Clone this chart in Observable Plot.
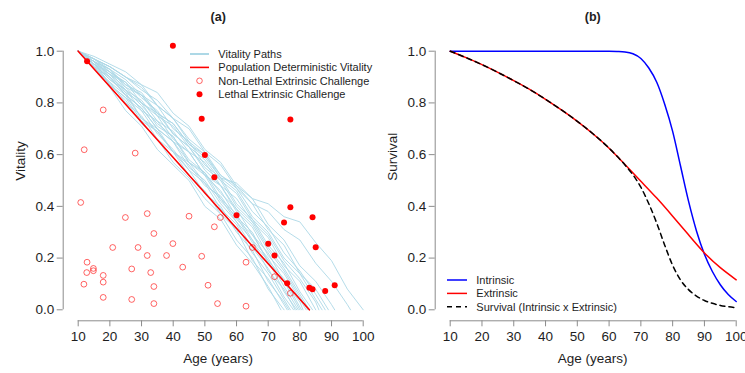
<!DOCTYPE html>
<html><head><meta charset="utf-8">
<script src="https://cdn.jsdelivr.net/npm/d3@7"></script>
<script src="https://cdn.jsdelivr.net/npm/@observablehq/plot@0.6"></script>
<style>
body{margin:0;background:#fff;font-family:"Liberation Sans",Arial,sans-serif;}
#wrap{position:relative;width:745px;height:373px;overflow:hidden;background:#fff;}
.panel{position:absolute;top:0;}
.panel svg{overflow:visible;}
#legend{position:absolute;left:0;top:0;}
</style></head><body><div id="wrap"></div>
<script>
// ---------- data ----------
const xTicks = [10, 20, 30, 40, 50, 60, 70, 80, 90, 100];
const yTicks = [0, 0.2, 0.4, 0.6, 0.8, 1.0];

// Vitality paths: values on a 5-year grid starting at age 10, then reaching 0 at pathEnd
const pathVals = [
  [1,0.94,0.86,0.77,0.71,0.62,0.56,0.50,0.40,0.35,0.25,0.18,0.09],
  [1,0.95,0.87,0.81,0.72,0.66,0.57,0.51,0.43,0.37,0.27,0.20,0.08],
  [1,0.93,0.88,0.80,0.75,0.66,0.61,0.52,0.46,0.37,0.31,0.19,0.12],
  [1,0.95,0.89,0.84,0.74,0.69,0.61,0.54,0.45,0.40,0.30,0.23,0.11,0.03],
  [1,0.96,0.87,0.82,0.77,0.68,0.62,0.54,0.49,0.39,0.33,0.22,0.14,0.04],
  [1,0.95,0.90,0.83,0.78,0.70,0.65,0.55,0.50,0.41,0.34,0.24,0.16,0.05],
  [1,0.94,0.88,0.83,0.74,0.70,0.61,0.57,0.49,0.43,0.34,0.27,0.15,0.08],
  [1,0.96,0.90,0.85,0.79,0.72,0.67,0.57,0.52,0.42,0.36,0.26,0.19,0.07],
  [1,0.94,0.90,0.83,0.78,0.70,0.65,0.57,0.53,0.43,0.37,0.27,0.20,0.09],
  [1,0.96,0.91,0.86,0.80,0.75,0.66,0.61,0.52,0.46,0.36,0.30,0.18,0.11],
  [1,0.94,0.87,0.82,0.73,0.69,0.61,0.56,0.48,0.44,0.35,0.29,0.19,0.12],
  [1,0.95,0.91,0.84,0.80,0.71,0.67,0.58,0.53,0.45,0.39,0.29,0.22,0.11,0.03],
  [1,0.97,0.92,0.88,0.82,0.77,0.68,0.63,0.54,0.48,0.38,0.32,0.21,0.14,0.04],
  [1,0.95,0.89,0.85,0.77,0.73,0.65,0.61,0.52,0.48,0.39,0.33,0.23,0.15,0.05],
  [1,0.96,0.91,0.88,0.80,0.76,0.68,0.63,0.55,0.50,0.40,0.34,0.24,0.16,0.06],
  [1,0.97,0.93,0.89,0.83,0.79,0.70,0.65,0.56,0.51,0.41,0.35,0.25,0.18,0.07],
  [1,0.95,0.92,0.85,0.81,0.73,0.69,0.61,0.57,0.48,0.43,0.34,0.28,0.17,0.11],
  [1,0.96,0.92,0.87,0.83,0.75,0.71,0.63,0.58,0.50,0.45,0.35,0.29,0.19,0.12,0.03],
  [1,0.97,0.94,0.90,0.86,0.79,0.74,0.65,0.60,0.51,0.46,0.36,0.30,0.20,0.14,0.04],
  [1,0.96,0.93,0.86,0.83,0.76,0.72,0.64,0.60,0.52,0.47,0.38,0.32,0.22,0.15,0.06],
  [1,0.97,0.94,0.90,0.85,0.81,0.74,0.70,0.61,0.56,0.47,0.41,0.31,0.25,0.14,0.08],
  [1,0.98,0.95,0.92,0.87,0.84,0.76,0.71,0.62,0.57,0.48,0.43,0.33,0.27,0.17,0.11,0.02],
  [1,0.97,0.94,0.90,0.87,0.79,0.74,0.66,0.61,0.52,0.48,0.41,0.38,0.31,0.27,0.18,0.11,0.02],
  [1,0.96,0.93,0.87,0.84,0.76,0.72,0.64,0.59,0.51,0.49,0.43,0.41,0.36,0.34,0.26,0.19,0.08]
];
const pathEnd = [74,75,76,76.5,77,78,78.5,79,79.5,80,80.5,81,82,82.5,83,84,85,86,87,88,89,91,96,100];

// Population deterministic vitality
const detAge = [10, 83];
const detVit = [1.0, 0.0];

// Non-lethal extrinsic challenges
const nlAge = [10.8,12.8,12.7,11.8,14.8,14.8,17.9,17.9,17.9,20.9,24.9,26.9,26.9,28.9,31.8,31.8,32.9,33.9,33.9,33.9,37.9,39.9,43.0,45.0,49.0,51.0,53.0,54.0,54.9,63.0,63.0,65.0,72.0,77.0,17.9,11.9,28.0];
const nlVit = [0.415,0.184,0.144,0.099,0.160,0.151,0.133,0.107,0.048,0.241,0.357,0.158,0.040,0.241,0.372,0.210,0.144,0.295,0.090,0.024,0.210,0.256,0.165,0.362,0.207,0.095,0.321,0.024,0.357,0.184,0.014,0.241,0.128,0.064,0.773,0.619,0.606];

// Lethal extrinsic challenges
const lAge = [39.9,12.8,49.0,50.0,53.0,77.0,60.0,70.0,72.0,75.0,77.0,76.0,83.0,84.0,84.0,85.0,88.0,91.0];
const lVit = [1.021,0.961,0.739,0.599,0.513,0.736,0.366,0.255,0.210,0.338,0.397,0.103,0.085,0.079,0.358,0.242,0.073,0.095];

// Panel (b) survival curves
const intrAge = [10,20,30,40,50,55,60,62.5,65,67.5,70,72.5,75,77.5,80,82.5,85,87.5,90,92.5,95,97.5,100];
const intrinsic = [1,1,1,1,1,1,1,0.999,0.997,0.99,0.972,0.935,0.88,0.795,0.69,0.555,0.42,0.305,0.215,0.148,0.097,0.059,0.032];
const extrAge = [10,15,20,25,30,35,40,45,50,55,60,65,70,75,80,85,90,95,100];
const extrinsic = [1,0.975,0.948,0.918,0.886,0.852,0.814,0.773,0.729,0.68,0.625,0.562,0.497,0.432,0.362,0.29,0.22,0.163,0.116];
const survAge = [10,15,20,25,30,35,40,45,50,55,60,65,67.5,70,72.5,75,77.5,80,82.5,85,87.5,90,92.5,95,97.5,100];
const survival  = [1,0.975,0.948,0.918,0.886,0.852,0.814,0.773,0.729,0.68,0.625,0.56,0.522,0.474,0.41,0.335,0.25,0.172,0.115,0.078,0.053,0.036,0.025,0.017,0.012,0.008];

// ---------- build tables ----------
const pathRows = [];
pathVals.forEach((vals, i) => {
  vals.forEach((v, j) => pathRows.push({path: i, age: 10 + 5 * j, v}));
  pathRows.push({path: i, age: pathEnd[i], v: 0});
});
const detRows = detAge.map((a, i) => ({age: a, v: detVit[i]}));
const nlRows = nlAge.map((a, i) => ({age: a, v: nlVit[i]}));
const lRows = lAge.map((a, i) => ({age: a, v: lVit[i]}));
const intrRows = intrAge.map((a, i) => ({age: a, v: intrinsic[i]}));
const extrRows = extrAge.map((a, i) => ({age: a, v: extrinsic[i]}));
const survRows = survAge.map((a, i) => ({age: a, v: survival[i]}));

const FONT = '"Liberation Sans", Arial, sans-serif';
const AXIS = "#8c8c8c";
const TXT = "#1e1e1e";

function frameOpts(W) {
  return {
    width: W, height: 373,
    marginLeft: 62.7, marginRight: 9.3, marginTop: 40, marginBottom: 52.7,
    style: {background: "transparent", overflow: "visible", fontFamily: FONT, fontSize: "13.5px", color: TXT},
    x: {domain: [10, 100], insetLeft: 15, insetRight: 0},
    y: {domain: [0, 1], insetTop: 10.7, insetBottom: 11}
  };
}
function axes(xlabel, ylabel, title, tdx) {
  return [
    Plot.ruleY([0], {x1: 10, x2: 100, dy: 11, stroke: AXIS, strokeWidth: 1}),
    Plot.ruleX([10], {y1: 0, y2: 1, dx: -15, stroke: AXIS, strokeWidth: 1}),
    Plot.axisX({ticks: xTicks, tickSize: 6, tickPadding: 5, stroke: AXIS, fill: TXT, label: null, fontSize: 13.5}),
    Plot.axisY({ticks: yTicks, tickSize: 6, tickPadding: 3, stroke: AXIS, fill: TXT, label: null, tickFormat: d => d.toFixed(1), fontSize: 13.5}),
    Plot.text([xlabel], {frameAnchor: "bottom", dy: 42.4, dx: tdx, fontSize: 13.5, fill: TXT}),
    Plot.text([ylabel], {frameAnchor: "left", dx: -42.5, rotate: -90, fontSize: 13.5, fill: TXT}),
    Plot.text([title], {frameAnchor: "top", dy: -28.5, dx: tdx, fontSize: 12.5, fontWeight: "bold", fill: TXT})
  ];
}

const plotA = Plot.plot({
  ...frameOpts(372),
  marks: [
    ...axes("Age (years)", "Vitality", "(a)", 5),
    Plot.line(pathRows, {x: "age", y: "v", z: "path", stroke: "#add8e6", strokeWidth: 0.9}),
    Plot.line(detRows, {x: "age", y: "v", stroke: "red", strokeWidth: 1.6}),
    Plot.dot(nlRows, {x: "age", y: "v", r: 2.9, stroke: "red", strokeOpacity: 0.6, fill: "none", strokeWidth: 1}),
    Plot.dot(lRows, {x: "age", y: "v", r: 3, fill: "red", stroke: "none"})
  ]
});

const plotB = Plot.plot({
  ...frameOpts(373),
  marks: [
    ...axes("Age (years)", "Survival", "(b)", 7),
    Plot.line(intrRows, {x: "age", y: "v", stroke: "blue", strokeWidth: 1.5, curve: "monotone-x"}),
    Plot.line(extrRows, {x: "age", y: "v", stroke: "red", strokeWidth: 1.5, curve: "natural"}),
    Plot.line(survRows, {x: "age", y: "v", stroke: "black", strokeWidth: 1.5, strokeDasharray: "5,4", curve: "monotone-x"})
  ]
});

const wrap = document.getElementById("wrap");
const pa = document.createElement("div"); pa.className = "panel"; pa.style.left = "0px"; pa.appendChild(plotA);
const pb = document.createElement("div"); pb.className = "panel"; pb.style.left = "372px"; pb.appendChild(plotB);
wrap.appendChild(pa); wrap.appendChild(pb);

// ---------- legends ----------
const leg = d3.select(wrap).append("svg").attr("id", "legend").attr("width", 745).attr("height", 373)
  .style("font-family", FONT).style("font-size", "11px");
const legA = [
  {label: "Vitality Paths", kind: "line", color: "#add8e6", w: 2},
  {label: "Population Deterministic Vitality", kind: "line", color: "red", w: 1.6},
  {label: "Non-Lethal Extrinsic Challenge", kind: "open"},
  {label: "Lethal Extrinsic Challenge", kind: "dot"}
];
const legAy = [54, 67.4, 80.8, 94.2];
legA.forEach((d, i) => {
  const y = legAy[i];
  if (d.kind === "line") leg.append("line").attr("x1", 190).attr("x2", 209).attr("y1", y).attr("y2", y).attr("stroke", d.color).attr("stroke-width", d.w);
  if (d.kind === "open") leg.append("circle").attr("cx", 199.5).attr("cy", y).attr("r", 2.8).attr("fill", "none").attr("stroke", "red").attr("stroke-opacity", 0.6);
  if (d.kind === "dot") leg.append("circle").attr("cx", 199.5).attr("cy", y).attr("r", 3).attr("fill", "red");
  leg.append("text").attr("x", 218.3).attr("y", y).attr("dy", "0.35em").attr("fill", TXT).text(d.label);
});
const legB = [
  {label: "Intrinsic", color: "blue", dash: null},
  {label: "Extrinsic", color: "red", dash: null},
  {label: "Survival (Intrinsic x Extrinsic)", color: "black", dash: "5,4"}
];
const legBy = [280, 293.4, 306.8];
legB.forEach((d, i) => {
  const y = legBy[i];
  const l = leg.append("line").attr("x1", 447).attr("x2", 467).attr("y1", y).attr("y2", y).attr("stroke", d.color).attr("stroke-width", 1.5);
  if (d.dash) l.attr("stroke-dasharray", d.dash);
  leg.append("text").attr("x", 476.3).attr("y", y).attr("dy", "0.35em").attr("fill", TXT).text(d.label);
});
</script></body></html>
